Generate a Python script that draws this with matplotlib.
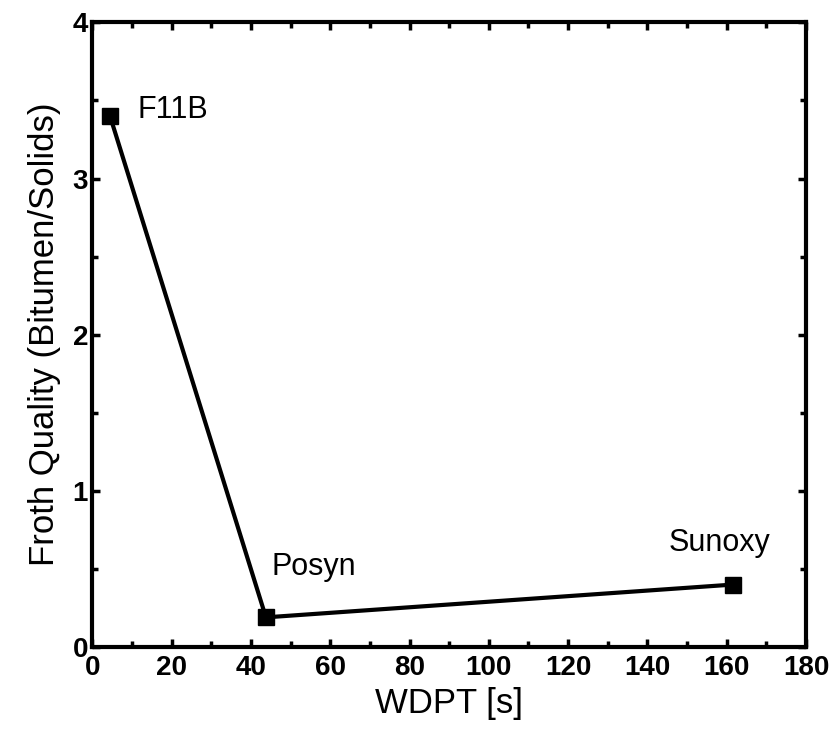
import numpy as np
import matplotlib
matplotlib.use("Agg")
import matplotlib.pyplot as plt
from matplotlib.ticker import MultipleLocator

plt.rcParams['font.family'] = ['Liberation Sans', 'DejaVu Sans']

# data
names = ['F11B', 'Posyn', 'Sunoxy']
wdpt = [4.5, 43.8, 161.6]
quality = [3.40, 0.19, 0.40]

fig = plt.figure(figsize=(8.38, 7.34), dpi=100)
ax = fig.add_axes([0.110, 0.1185, 0.852, 0.851])

ax.plot(wdpt, quality, color='black', lw=3, marker='s', ms=12, mfc='black', mec='black')

# labels next to the points
ax.text(11.3, 3.44, names[0], fontsize=22, va='center', ha='left')
ax.text(45.3, 0.51, names[1], fontsize=22, va='center', ha='left')
ax.text(145.3, 0.665, names[2], fontsize=22, va='center', ha='left')

ax.set_xlim(0, 180)
ax.set_ylim(0, 4)
ax.xaxis.set_major_locator(MultipleLocator(20))
ax.xaxis.set_minor_locator(MultipleLocator(10))
ax.yaxis.set_major_locator(MultipleLocator(1))
ax.yaxis.set_minor_locator(MultipleLocator(0.5))
ax.tick_params(which='both', direction='in', top=True, right=True, width=2.5)
ax.tick_params(which='major', length=6, labelsize=20)
ax.tick_params(which='minor', length=4)
ax.tick_params(axis='y', pad=3)
ax.tick_params(axis='x', pad=6)
for lab in ax.get_xticklabels() + ax.get_yticklabels():
    lab.set_fontweight('bold')
for s in ax.spines.values():
    s.set_linewidth(3)

ax.set_xlabel('WDPT [s]', fontsize=25, labelpad=4)
ax.set_ylabel('Froth Quality (Bitumen/Solids)', fontsize=25, labelpad=8)

fig.savefig('out.png', dpi=100)
